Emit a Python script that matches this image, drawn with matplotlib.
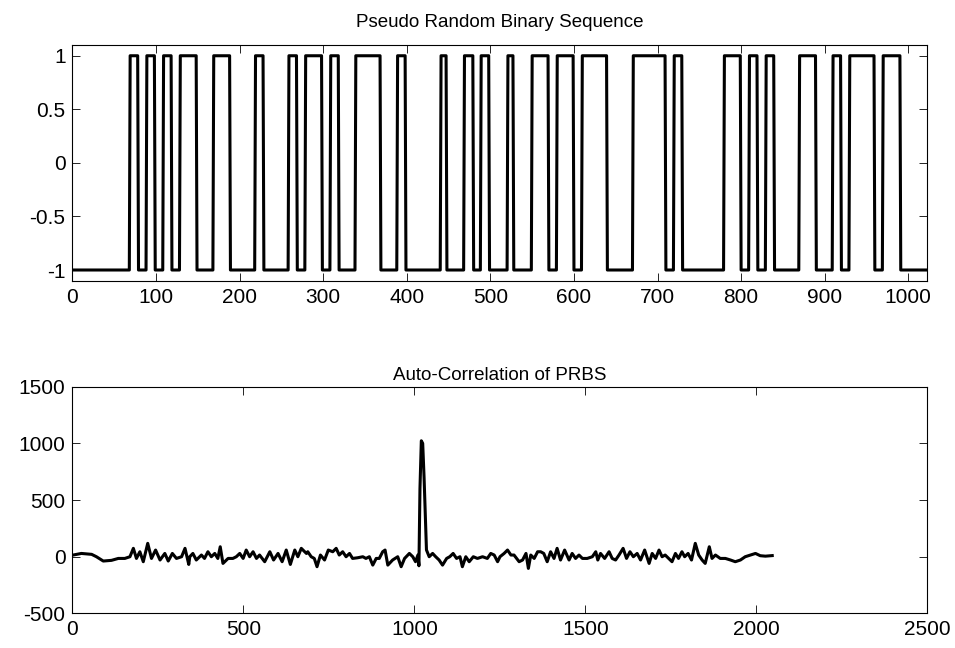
import matplotlib
matplotlib.use("Agg")
import matplotlib.pyplot as plt
import numpy as np

plt.rcParams["font.family"] = ["Liberation Sans", "DejaVu Sans"]
plt.rcParams["axes.unicode_minus"] = False

# sample indices where the PRBS level flips (starts at -1)
switch_points = [69, 79, 89, 99, 109, 119, 129, 149, 169, 189, 219, 229, 259, 269,
                 279, 299, 309, 319, 339, 369, 389, 399, 441, 448, 469, 480, 489, 499,
                 521, 528, 550, 570, 580, 600, 610, 640, 671, 710, 720, 730, 780, 800,
                 810, 820, 830, 840, 870, 890, 910, 920, 930, 960, 970, 991]
n_samples = 1024

# auto-correlation (lag, value)
lags = [0, 2, 26, 56, 70, 90, 114, 134, 153, 168, 178, 187, 197, 207, 220, 231, 243,
        256, 270, 280, 292, 304, 319, 329, 340, 343, 352, 362, 377, 386, 396, 406,
        416, 425, 432, 440, 455, 469, 479, 489, 499, 508, 518, 528, 538, 547, 562,
        577, 588, 601, 613, 625, 637, 650, 659, 669, 684, 688, 698, 707, 715, 725,
        737, 748, 761, 771, 780, 790, 800, 810, 819, 834, 849, 858, 868, 878, 888,
        897, 907, 914, 922, 936, 951, 961, 971, 985, 995, 1003, 1010, 1013, 1016,
        1020, 1024, 1028, 1035, 1043, 1053, 1062, 1072, 1082, 1094, 1103, 1113,
        1123, 1133, 1140, 1150, 1160, 1172, 1184, 1199, 1213, 1223, 1233, 1243,
        1250, 1262, 1272, 1282, 1291, 1306, 1316, 1326, 1333, 1340, 1350, 1360,
        1369, 1378, 1388, 1398, 1408, 1417, 1427, 1439, 1452, 1461, 1471, 1481,
        1491, 1505, 1520, 1530, 1536, 1544, 1556, 1569, 1578, 1588, 1598, 1610,
        1620, 1630, 1640, 1651, 1661, 1673, 1686, 1695, 1705, 1715, 1724, 1733,
        1743, 1753, 1763, 1772, 1782, 1790, 1800, 1810, 1821, 1831, 1841, 1850,
        1862, 1870, 1880, 1894, 1909, 1924, 1938, 1953, 1967, 1982, 1997, 2011,
        2026, 2046]
acorr = [15, 15, 29, 21, 0, -38, -32, -15, -15, 0, 74, -15, 44, -44, 118, -15, 59,
         -29, 29, -38, 29, -15, 0, 74, -68, 0, 29, -29, 15, -15, 44, 0,
         29, -15, 88, -59, -15, -15, 0, 29, -15, 59, 0, 44, -15, 15, -44,
         44, -29, 29, -44, 59, -68, 59, 0, 74, 29, 44, 0, -15, -88, 15,
         -29, 59, 44, 74, 15, 44, 0, 29, -15, -9, 0, -15, 0, -74, -15,
         -15, 44, 59, -74, -29, 0, -88, -15, 29, 0, -44, 15, -80, 600,
         1023, 1000, 700, 60, 0, 29, 0, -29, -74, -15, 0, 29,
         -15, 0, -88, 0, -44, 0, -15, 0, -15, 29, 15, -44,
         0, 29, 59, 15, 15, -44, -29, 29, -103, 15, -15, 44,
         44, 29, -44, 44, -15, 74, -29, 59, -29, 29, -15, 15,
         -15, -15, 0, 44, -29, 29, -15, 44, -15, -29, 15, 74,
         -15, 44, 0, 29, -29, 59, -59, 29, -15, 59, 0, 15,
         -15, -44, 29, -15, 44, 0, 29, -29, 118, 15, -29, -59,
         88, -15, 15, -15, -15, -29, -44, -29, 0, 15, 29, 9,
         5, 10]

flips = np.zeros(n_samples, dtype=int)
flips[switch_points] = 1
u = np.where(np.cumsum(flips) % 2 == 0, -1.0, 1.0)

fig = plt.figure(figsize=(9.55, 6.48), dpi=100)
ax1 = fig.add_axes([0.0759, 0.5668, 0.8953, 0.3637])
ax2 = fig.add_axes([0.0759, 0.0534, 0.8953, 0.3498])

ax1.plot(np.arange(n_samples), u, color="black", lw=2.2)
ax1.set_xlim(0, 1023)
ax1.set_ylim(-1.1, 1.1)
ax1.set_xticks(np.arange(0, 1001, 100))
ax1.set_yticks([-1, -0.5, 0, 0.5, 1])
ax1.set_yticklabels(["-1", "-0.5", "0", "0.5", "1"])
ax1.set_title("Pseudo Random Binary Sequence", fontsize=13.5, pad=13)

ax2.plot(lags, acorr, color="black", lw=2.2)
ax2.set_xlim(0, 2500)
ax2.set_ylim(-500, 1500)
ax2.set_xticks(np.arange(0, 2501, 500))
ax2.set_yticks(np.arange(-500, 1501, 500))
ax2.set_title("Auto-Correlation of PRBS", fontsize=13.5, pad=5)

for ax in (ax1, ax2):
    ax.tick_params(direction="in", top=True, right=True, length=6, width=0.6,
                   labelsize=15, pad=5)
    for s in ax.spines.values():
        s.set_linewidth(0.8)

fig.savefig("out.png", dpi=100)
plt.close(fig)
